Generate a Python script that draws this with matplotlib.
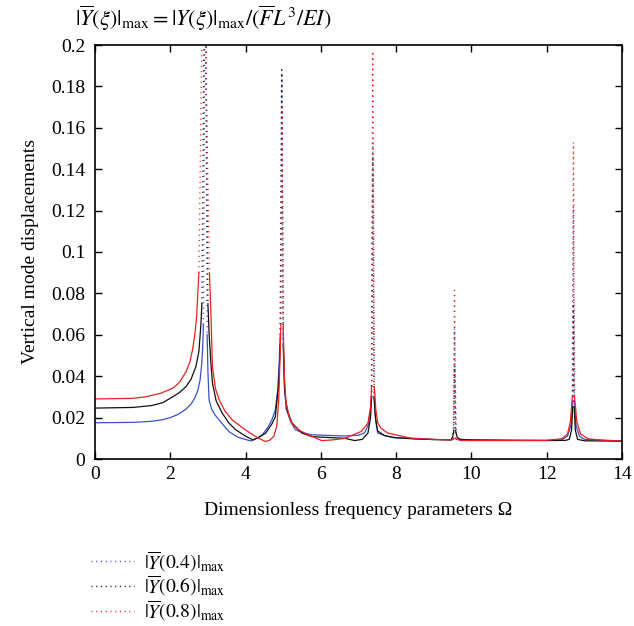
import numpy as np
import matplotlib
matplotlib.use('Agg')
import matplotlib.pyplot as plt
from matplotlib.lines import Line2D

plt.rcParams['font.family'] = ['Liberation Serif', 'DejaVu Serif']
plt.rcParams['mathtext.fontset'] = 'stix'

# curve values (solid part of each response curve)
blue_x = [0, 1.0, 1.5, 1.8, 2.0, 2.2, 2.4, 2.55, 2.65, 2.73, 2.79, 2.83, 2.86, 2.88,
          2.98, 3.0, 3.03, 3.1, 3.2, 3.3, 3.45, 3.56, 3.8, 4.1, 4.15, 4.3, 4.45, 4.6, 4.7, 4.79, 4.85, 4.89, 4.92,
          5.0, 5.03, 5.08, 5.2, 5.32, 5.5, 5.76, 6.64, 7.0, 7.16, 7.25, 7.31, 7.34,
          7.42, 7.46, 7.51, 7.7, 7.95, 8.5, 9.0, 9.45, 9.52,
          9.6, 10.0, 11.0, 12.0, 12.4, 12.55, 12.64, 12.69,
          12.73, 12.78, 12.87, 13.0, 14.0]
blue_y = [0.0175, 0.0177, 0.0182, 0.0190, 0.0200, 0.0215, 0.0238, 0.0265, 0.0295, 0.033, 0.038, 0.045, 0.053, 0.065,
          0.060, 0.042, 0.0285, 0.024, 0.021, 0.0188, 0.0155, 0.0132, 0.0105, 0.0089, 0.0088, 0.0100, 0.0118, 0.0155, 0.019, 0.0237, 0.033, 0.045, 0.060,
          0.060, 0.035, 0.024, 0.018, 0.0142, 0.0128, 0.0117, 0.0111, 0.0115, 0.0126, 0.016, 0.022, 0.030,
          0.030, 0.018, 0.0126, 0.0112, 0.0104, 0.0098, 0.0094, 0.0092, 0.0095,
          0.0095, 0.0092, 0.0091, 0.0090, 0.0093, 0.011, 0.016, 0.028,
          0.028, 0.016, 0.011, 0.0095, 0.0087]
blue_peak_x = [2.93, 4.96, 7.38, 9.55, 12.71]
blue_peak_top = [0.26, 0.185, 0.153, 0.063, 0.122]

black_x = [0, 1.0, 1.5, 1.8, 2.07, 2.25, 2.42, 2.55, 2.68, 2.76, 2.81, 2.84,
           3.0, 3.03, 3.08, 3.12, 3.22, 3.38, 3.55, 3.74, 4.0, 4.2, 4.35, 4.53, 4.7, 4.79, 4.88, 4.92,
           5.0, 5.04, 5.1, 5.23, 5.5, 5.76, 6.3, 6.64, 6.9, 7.1, 7.25, 7.32, 7.35,
           7.41, 7.45, 7.51, 7.7, 7.95, 8.5, 9.0, 9.45, 9.5, 9.53,
           9.58, 9.62, 9.7, 10.0, 11.0, 12.0, 12.5, 12.6, 12.66, 12.69,
           12.73, 12.76, 12.82, 13.0, 14.0]
black_y = [0.0246, 0.0249, 0.0258, 0.0272, 0.0301, 0.0322, 0.035, 0.0385, 0.0446, 0.052, 0.064, 0.075,
           0.075, 0.061, 0.046, 0.0367, 0.028, 0.0222, 0.0175, 0.0141, 0.011, 0.0092, 0.0105, 0.0124, 0.017, 0.0204, 0.036, 0.055,
           0.055, 0.033, 0.024, 0.0175, 0.0125, 0.0108, 0.0103, 0.0100, 0.0089, 0.0095, 0.0125, 0.020, 0.030,
           0.030, 0.020, 0.0135, 0.0113, 0.0103, 0.0097, 0.0094, 0.0093, 0.0105, 0.0137,
           0.0137, 0.0105, 0.0095, 0.0092, 0.0090, 0.0089, 0.0090, 0.0095, 0.014, 0.025,
           0.025, 0.014, 0.0095, 0.0088, 0.0086]
black_peak_x = [2.92, 4.96, 7.38, 9.55, 12.71]
black_peak_top = [0.26, 0.188, 0.146, 0.045, 0.075]

red_x = [0, 1.0, 1.36, 1.75, 2.07, 2.25, 2.42, 2.52, 2.59, 2.65, 2.70, 2.76,
         3.04, 3.08, 3.12, 3.2, 3.3, 3.45, 3.65, 4.0, 4.3, 4.53, 4.65, 4.75, 4.83, 4.88, 4.92, 4.94,
         5.0, 5.03, 5.07, 5.15, 5.23, 5.4, 5.58, 6.02, 6.3, 6.64, 7.07, 7.25, 7.32, 7.35,
         7.42, 7.46, 7.51, 7.6, 7.78, 8.39, 9.0, 9.27, 9.5, 9.53,
         9.58, 9.7, 10.0, 11.0, 12.0, 12.4, 12.55, 12.63, 12.68,
         12.74, 12.8, 12.9, 13.1, 13.5, 14.0]
red_y = [0.029, 0.0293, 0.0301, 0.0318, 0.0342, 0.0372, 0.0422, 0.0468, 0.0527, 0.060, 0.0687, 0.090,
         0.090, 0.070, 0.0446, 0.034, 0.0285, 0.0232, 0.0188, 0.014, 0.0105, 0.0084, 0.0092, 0.0110, 0.016, 0.0285, 0.052, 0.065,
         0.065, 0.040, 0.028, 0.021, 0.0172, 0.0142, 0.0124, 0.0089, 0.0092, 0.0100, 0.0133, 0.0172, 0.025, 0.035,
         0.035, 0.024, 0.0175, 0.0148, 0.0125, 0.0101, 0.0095, 0.0093, 0.0093, 0.0098,
         0.0098, 0.0090, 0.0089, 0.0089, 0.0090, 0.0098, 0.012, 0.018, 0.030,
         0.030, 0.018, 0.012, 0.0098, 0.0090, 0.0087]
red_peak_x = [2.88, 4.97, 7.38, 9.55, 12.71]
red_peak_top = [0.26, 0.17, 0.197, 0.0815, 0.153]

series = [
    (r'$|\overline{Y}(0.4)|_{\max}$', '#3d50c8', blue_x, blue_y, blue_peak_x, blue_peak_top),
    (r'$|\overline{Y}(0.6)|_{\max}$', '#111111', black_x, black_y, black_peak_x, black_peak_top),
    (r'$|\overline{Y}(0.8)|_{\max}$', '#f02020', red_x, red_y, red_peak_x, red_peak_top),
]

dot_style = (0, (0.8, 3.0))

fig = plt.figure(figsize=(6.34, 6.26), dpi=100)
ax = fig.add_axes([95 / 634, 1 - 459 / 626, 527 / 634, 414 / 626])

handles = []
for label, color, xs, ys, pxs, tops in series:
    xs = np.array(xs)
    ys = np.array(ys)
    # split the solid curve at every resonance peak
    cuts = np.searchsorted(xs, pxs)
    start = 0
    for c in list(cuts) + [len(xs)]:
        ax.plot(xs[start:c], ys[start:c], color=color, lw=0.9, zorder=2)
        start = c
    # the spikes are only sampled points -> dotted
    for c, px, top in zip(cuts, pxs, tops):
        ax.plot([xs[c - 1], px, xs[c]], [ys[c - 1], top, ys[c]],
                color=color, lw=1.0, linestyle=dot_style, zorder=1)
    handles.append(Line2D([], [], color=color, lw=1.0, linestyle=(0, (0.8, 2.6)), label=label))

ax.set_xlim(0, 14)
ax.set_ylim(0, 0.2)
ax.set_xticks(np.arange(0, 15, 2))
ax.set_yticks(np.arange(0, 0.201, 0.02))
ax.yaxis.set_major_formatter(matplotlib.ticker.FuncFormatter(lambda v, p: '%g' % round(v, 2)))
ax.tick_params(direction='in', top=True, right=True, length=5, width=1, labelsize=14)
ax.tick_params(axis='y', pad=7)
ax.tick_params(axis='x', pad=5)
for s in ax.spines.values():
    s.set_linewidth(1.2)

ax.set_xlabel('Dimensionless frequency parameters Ω', fontsize=14, labelpad=13)
ax.set_ylabel('Vertical mode displacements', fontsize=14, labelpad=9)

fig.text(75 / 634, 1 - 18 / 626,
         r'$|\overline{Y}(\xi)|_{\max}=|Y(\xi)|_{\max}/(\overline{F}L^3/EI)$',
         fontsize=16, ha='left', va='center')

fig.legend(handles=handles, loc='upper left', bbox_to_anchor=(91 / 634, 1 - 549 / 626),
           frameon=False, fontsize=14, handlelength=2.2, handletextpad=0.5,
           labelspacing=0.0, borderaxespad=0, borderpad=0)

fig.savefig('out.png', dpi=100)
